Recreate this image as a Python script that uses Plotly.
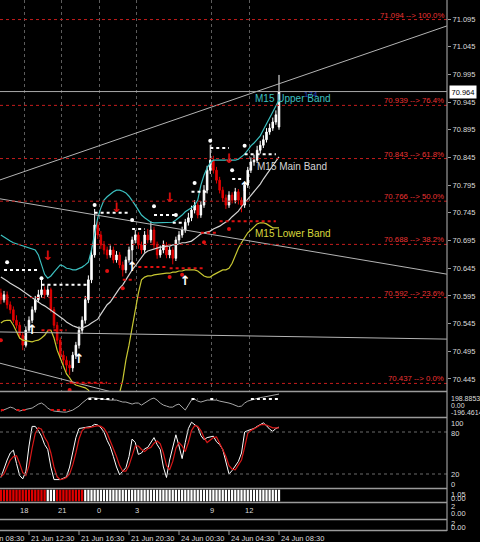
import plotly.graph_objects as go

# ---------------- 15-minute bars, USDRUB-style quotes ----------------
bars = list(range(90))

opens = [70.600, 70.588, 70.597, 70.579, 70.570, 70.551, 70.542, 70.524, 70.506, 70.533,
         70.551, 70.570, 70.588, 70.597, 70.606, 70.597, 70.606, 70.570, 70.542, 70.515,
         70.488, 70.479, 70.470, 70.465, 70.488, 70.506, 70.533, 70.551, 70.588, 70.624,
         70.669, 70.723, 70.705, 70.687, 70.678, 70.669, 70.678, 70.660, 70.669, 70.651,
         70.642, 70.660, 70.678, 70.696, 70.705, 70.687, 70.678, 70.705, 70.696, 70.714,
         70.687, 70.669, 70.678, 70.687, 70.669, 70.678, 70.663, 70.696, 70.705, 70.714,
         70.728, 70.736, 70.750, 70.759, 70.741, 70.759, 70.786, 70.822, 70.840, 70.822,
         70.804, 70.786, 70.772, 70.759, 70.777, 70.768, 70.783, 70.768, 70.759, 70.795,
         70.822, 70.837, 70.840, 70.858, 70.867, 70.877, 70.891, 70.898, 70.909, 70.900]

highs = [70.608, 70.604, 70.603, 70.585, 70.576, 70.560, 70.548, 70.530, 70.540, 70.558,
         70.576, 70.595, 70.606, 70.624, 70.612, 70.614, 70.610, 70.575, 70.548, 70.520,
         70.496, 70.486, 70.478, 70.494, 70.512, 70.540, 70.558, 70.595, 70.632, 70.678,
         70.752, 70.730, 70.712, 70.694, 70.684, 70.686, 70.684, 70.676, 70.674, 70.657,
         70.666, 70.684, 70.702, 70.714, 70.710, 70.693, 70.712, 70.716, 70.730, 70.720,
         70.693, 70.686, 70.695, 70.692, 70.684, 70.683, 70.702, 70.712, 70.720, 70.734,
         70.745, 70.758, 70.768, 70.764, 70.766, 70.795, 70.830, 70.868, 70.848, 70.828,
         70.810, 70.792, 70.778, 70.784, 70.782, 70.790, 70.788, 70.773, 70.802, 70.828,
         70.845, 70.850, 70.866, 70.875, 70.885, 70.898, 70.906, 70.917, 70.930, 70.994]

lows = [70.580, 70.583, 70.572, 70.563, 70.546, 70.536, 70.518, 70.497, 70.502, 70.528,
        70.546, 70.565, 70.583, 70.592, 70.590, 70.593, 70.565, 70.536, 70.508, 70.482,
        70.470, 70.458, 70.452, 70.458, 70.481, 70.500, 70.526, 70.545, 70.582, 70.618,
        70.664, 70.698, 70.680, 70.670, 70.662, 70.664, 70.654, 70.655, 70.645, 70.630,
        70.636, 70.655, 70.650, 70.690, 70.680, 70.671, 70.673, 70.690, 70.691, 70.680,
        70.662, 70.664, 70.672, 70.663, 70.663, 70.652, 70.658, 70.690, 70.700, 70.709,
        70.722, 70.730, 70.744, 70.735, 70.736, 70.754, 70.780, 70.815, 70.816, 70.798,
        70.780, 70.765, 70.752, 70.754, 70.762, 70.762, 70.760, 70.746, 70.754, 70.790,
        70.817, 70.830, 70.835, 70.852, 70.862, 70.872, 70.886, 70.893, 70.904, 70.895]

closes = [70.588, 70.597, 70.579, 70.570, 70.551, 70.542, 70.524, 70.506, 70.533, 70.551,
          70.570, 70.588, 70.597, 70.606, 70.597, 70.606, 70.570, 70.542, 70.515, 70.488,
          70.479, 70.470, 70.465, 70.488, 70.506, 70.533, 70.551, 70.588, 70.624, 70.669,
          70.723, 70.705, 70.687, 70.678, 70.669, 70.678, 70.660, 70.669, 70.651, 70.642,
          70.660, 70.678, 70.696, 70.705, 70.687, 70.678, 70.705, 70.696, 70.714, 70.687,
          70.669, 70.678, 70.687, 70.669, 70.678, 70.663, 70.696, 70.705, 70.714, 70.728,
          70.736, 70.750, 70.759, 70.741, 70.759, 70.786, 70.822, 70.840, 70.822, 70.804,
          70.786, 70.772, 70.759, 70.777, 70.768, 70.783, 70.768, 70.759, 70.795, 70.822,
          70.837, 70.840, 70.858, 70.867, 70.877, 70.891, 70.898, 70.909, 70.922, 70.964]

# M15 Bollinger bands
bb_upper = [70.705, 70.701, 70.698, 70.694, 70.691, 70.689, 70.687, 70.685, 70.683, 70.681,
            70.680, 70.678, 70.669, 70.651, 70.634, 70.627, 70.631, 70.638, 70.645, 70.651,
            70.649, 70.645, 70.644, 70.642, 70.642, 70.644, 70.647, 70.651, 70.656, 70.678,
            70.710, 70.736, 70.754, 70.768, 70.774, 70.779, 70.783, 70.786, 70.786, 70.784,
            70.781, 70.775, 70.768, 70.759, 70.750, 70.741, 70.736, 70.732, 70.728, 70.727,
            70.727, 70.727, 70.727, 70.727, 70.727, 70.728, 70.732, 70.736, 70.741, 70.747,
            70.750, 70.754, 70.759, 70.768, 70.795, 70.813, 70.826, 70.835, 70.840, 70.840,
            70.840, 70.840, 70.840, 70.840, 70.840, 70.840, 70.842, 70.846, 70.851, 70.858,
            70.866, 70.871, 70.877, 70.884, 70.895, 70.905, 70.916, 70.927, 70.938, 70.949]

bb_main = [70.629, 70.626, 70.622, 70.618, 70.615, 70.611, 70.608, 70.604, 70.600, 70.595,
           70.591, 70.588, 70.584, 70.580, 70.577, 70.573, 70.570, 70.566, 70.561, 70.557,
           70.553, 70.548, 70.544, 70.541, 70.539, 70.537, 70.537, 70.539, 70.542, 70.546,
           70.550, 70.553, 70.562, 70.571, 70.579, 70.584, 70.593, 70.602, 70.609, 70.615,
           70.624, 70.634, 70.642, 70.649, 70.656, 70.665, 70.672, 70.676, 70.678, 70.680,
           70.681, 70.683, 70.683, 70.685, 70.685, 70.687, 70.687, 70.689, 70.691, 70.691,
           70.692, 70.694, 70.698, 70.703, 70.707, 70.709, 70.710, 70.712, 70.716, 70.718,
           70.721, 70.725, 70.728, 70.732, 70.738, 70.743, 70.748, 70.756, 70.763, 70.768,
           70.775, 70.783, 70.790, 70.797, 70.806, 70.813, 70.822, 70.830, 70.839, 70.846]

bb_lower = [70.546, 70.550, 70.551, 70.551, 70.542, 70.530, 70.519, 70.515, 70.514, 70.512,
            70.512, 70.514, 70.515, 70.519, 70.524, 70.532, 70.533, 70.519, 70.497, 70.483,
            70.468, 70.454, 70.447, 70.438, 70.434, 70.432, 70.431, 70.429, 70.425, 70.416,
            70.403, 70.389, 70.375, 70.371, 70.375, 70.389, 70.403, 70.412, 70.420, 70.443,
            70.479, 70.506, 70.537, 70.570, 70.600, 70.624, 70.629, 70.631, 70.631, 70.633,
            70.634, 70.634, 70.636, 70.636, 70.636, 70.638, 70.638, 70.640, 70.640, 70.642,
            70.642, 70.642, 70.642, 70.640, 70.636, 70.631, 70.629, 70.629, 70.633, 70.636,
            70.640, 70.642, 70.642, 70.645, 70.654, 70.669, 70.681, 70.691, 70.700, 70.709,
            70.714, 70.719, 70.725, 70.727, 70.727, 70.725, 70.721, 70.718, 70.718, 70.718]

# CCI
cci = [-103, -87, -63, -40, -55, -87, -103, -87, -79, -71,
       -55, -24, 8, 24, -8, -55, -87, -103, -111, -119,
       -119, -119, -103, -87, -55, -24, 24, 71, 103, 111,
       103, 95, 87, 79, 71, 71, 71, 71, 55, 40,
       40, 24, 8, 24, 24, -8, 24, 55, 87, 103,
       71, 24, -8, -24, -40, -40, -8, 8, -40, -87,
       -8, 71, 87, 55, 40, 55, 71, 71, 71, 71,
       55, 47, 32, 24, 8, -8, -32, -24, 24, 55,
       71, 87, 103, 111, 118, 126, 134, 150, 158, 166]
cci_max, cci_min = 198.8853, -196.4614

# Stochastic oscillator
stoch_main = [15, 28, 40, 50, 54, 35, 18, 13, 24, 60,
              88, 88, 82, 74, 62, 55, 30, 12, 12, 12,
              14, 16, 30, 50, 72, 85, 86, 86, 87, 88,
              91, 90, 86, 80, 68, 59, 45, 30, 19, 24,
              29, 45, 70, 65, 48, 50, 56, 58, 65, 72,
              62, 55, 30, 15, 40, 60, 76, 60, 42, 65,
              85, 94, 90, 87, 75, 69, 72, 73, 74, 66,
              62, 55, 38, 20, 25, 32, 38, 50, 80, 82,
              83, 85, 88, 91, 93, 89, 84, 81, 85, 87]
stoch_signal = [16, 20, 30, 40, 45, 46, 35, 22, 18, 32,
                57, 78, 86, 84, 72, 65, 50, 30, 16, 12,
                13, 15, 20, 33, 50, 70, 82, 86, 86, 87,
                88, 89, 88, 85, 78, 68, 56, 45, 32, 24,
                24, 32, 48, 60, 60, 55, 52, 56, 58, 64,
                67, 63, 50, 32, 26, 38, 57, 65, 60, 52,
                65, 82, 89, 88, 82, 72, 65, 68, 72, 73,
                65, 55, 45, 32, 27, 26, 33, 40, 58, 78,
                82, 84, 87, 90, 91, 90, 88, 86, 86, 86]
stoch_levels = [80, 20]

# trend strip: 1 = bearish (red), 0 = bullish (white)
trend_state = [1, 1, 1, 1, 1, 1, 1, 1, 1, 1,
               1, 1, 1, 1, 1, 0, 0, 0, 1, 1,
               1, 1, 1, 1, 1, 1, 1, 0, 0, 0,
               0, 0, 0, 0, 0, 0, 0, 0, 0, 0,
               0, 0, 0, 0, 0, 0, 0, 0, 0, 0,
               0, 0, 0, 0, 0, 0, 0, 0, 0, 0,
               0, 0, 0, 0, 0, 0, 0, 0, 0, 0,
               0, 0, 0, 0, 0, 0, 0, 0, 0, 0,
               0, 0, 0, 0, 0, 0, 0, 0, 0, 0]

# Fibonacci retracement
fib_levels = [71.094, 70.939, 70.843, 70.766, 70.688, 70.592, 70.437]
fib_pcts = ["100.0%", "76.4%", "61.8%", "50.0%", "38.2%", "23.6%", "0.0%"]

price_ticks = [71.095, 71.045, 70.995, 70.945, 70.895, 70.845, 70.795,
               70.745, 70.695, 70.645, 70.595, 70.545, 70.495, 70.445]
bid_price = 70.964

# hand-drawn trend lines: (bar0, price0, bar1, price1)
trend_lines = [(-1, 70.803, 143, 71.083),
               (-1, 70.771, 143, 70.634),
               (-1, 70.530, 143, 70.517),
               (-1, 70.4745, 40, 70.415)]

# fractal levels: (first bar, last bar, price)
white_levels = [(1, 12, 70.642), (13, 28, 70.615), (30, 41, 70.745), (42, 46, 70.716),
                (49, 56, 70.741), (55, 59, 70.727), (61, 66, 70.783), (67, 73, 70.862),
                (74, 77, 70.806), (78, 88, 70.851)]
red_levels = [(13, 21, 70.533), (22, 34, 70.438), (39, 43, 70.624), (44, 53, 70.647),
              (54, 65, 70.645), (64, 69, 70.709), (70, 88, 70.730)]

white_dot_bars = [2, 13, 30, 42, 49, 56, 62, 67, 74, 78]
white_dot_prices = [70.656, 70.627, 70.759, 70.732, 70.757, 70.741, 70.799, 70.875, 70.822, 70.866]
red_dot_bars = [0, 22, 34, 39, 54, 58, 65, 73]
red_dot_prices = [70.515, 70.425, 70.640, 70.609, 70.629, 70.633, 70.692, 70.716]

up_arrow_bars = [10, 25, 42, 59, 78]
up_arrow_prices = [70.533, 70.479, 70.645, 70.620, 70.790]
down_arrow_bars = [15, 37, 54, 73]
down_arrow_prices = [70.665, 70.752, 70.770, 70.840]

# CCI extremes markers: (first bar, last bar)
cci_high_runs = [(28, 36), (61, 63), (67, 69), (80, 89)]
cci_low_runs = [(0, 1), (5, 8), (16, 22)]
cci_marker_level = 87

time_labels = ["21 Jun 08:30", "21 Jun 12:30", "21 Jun 16:30", "21 Jun 20:30",
               "24 Jun 00:30", "24 Jun 04:30", "24 Jun 08:30"]
time_label_bars = [-7, 9, 25, 41, 57, 73, 89]
hour_labels = ["18", "21", "0", "3", "9", "12"]
hour_label_bars = [7.5, 19.5, 31.5, 43.5, 67.5, 79.5]

# ---------------- geometry / style ----------------
FONT = "Liberation Sans, Arial, sans-serif"
PLOT_H = 531.0          # plot-area height in px; the time scale sits below
XMIN, XMAX = -0.28, 142.76
YMIN, YMAX = 70.4233, 71.1293


def py(row):
    """pixel row inside the plot area -> paper y"""
    return (PLOT_H - row) / PLOT_H


def bx(bar):
    return (bar - XMIN) / (XMAX - XMIN)


CYAN = "#3cc0c0"
MAINB = "#d4d4d4"
YELLOW = "#c8c832"
RED = "#e00000"
FIBRED = "#c41c1c"

fig = go.Figure()

# ---- main price panel ----
fig.add_trace(go.Candlestick(
    x=bars, open=opens, high=highs, low=lows, close=closes,
    increasing=dict(line=dict(color="#ffffff", width=1), fillcolor="#ffffff"),
    decreasing=dict(line=dict(color=RED, width=1), fillcolor=RED),
    whiskerwidth=0, xaxis="x", yaxis="y"))

for vals, col in [(bb_upper, CYAN), (bb_main, MAINB), (bb_lower, YELLOW)]:
    fig.add_trace(go.Scatter(x=bars, y=vals, mode="lines",
                             line=dict(color=col, width=1.2), xaxis="x", yaxis="y"))

for b0, p0, b1, p1 in trend_lines:
    fig.add_trace(go.Scatter(x=[b0, b1], y=[p0, p1], mode="lines",
                             line=dict(color="#b4b4b4", width=1), xaxis="x", yaxis="y"))

for b0, b1, p in white_levels:
    fig.add_trace(go.Scatter(x=[b0, b1], y=[p, p], mode="lines",
                             line=dict(color="#ffffff", width=2, dash="dot"),
                             xaxis="x", yaxis="y"))
for b0, b1, p in red_levels:
    fig.add_trace(go.Scatter(x=[b0, b1], y=[p, p], mode="lines",
                             line=dict(color="#e01010", width=2, dash="dot"),
                             xaxis="x", yaxis="y"))

fig.add_trace(go.Scatter(x=white_dot_bars, y=white_dot_prices, mode="markers",
                         marker=dict(color="#ffffff", size=4), xaxis="x", yaxis="y"))
fig.add_trace(go.Scatter(x=red_dot_bars, y=red_dot_prices, mode="markers",
                         marker=dict(color="#e01010", size=4), xaxis="x", yaxis="y"))
fig.add_trace(go.Scatter(x=up_arrow_bars, y=up_arrow_prices, mode="text",
                         text=["<b>↑</b>"] * len(up_arrow_bars),
                         textfont=dict(family="DejaVu Sans", size=13, color="#ffffff"),
                         xaxis="x", yaxis="y"))
fig.add_trace(go.Scatter(x=down_arrow_bars, y=down_arrow_prices, mode="text",
                         text=["<b>↓</b>"] * len(down_arrow_bars),
                         textfont=dict(family="DejaVu Sans", size=13, color="#e01010"),
                         xaxis="x", yaxis="y"))

# ---- CCI panel ----
fig.add_trace(go.Scatter(x=bars, y=cci, mode="lines", line=dict(color="#a8a8a8", width=1),
                         xaxis="x2", yaxis="y2"))
for b0, b1 in cci_high_runs:
    fig.add_trace(go.Scatter(x=[b0, b1], y=[cci_marker_level] * 2, mode="lines",
                             line=dict(color="#ffffff", width=2, dash="dot"),
                             xaxis="x2", yaxis="y2"))
for b0, b1 in cci_low_runs:
    fig.add_trace(go.Scatter(x=[b0, b1], y=[-cci_marker_level] * 2, mode="lines",
                             line=dict(color="#e01010", width=2, dash="dot"),
                             xaxis="x2", yaxis="y2"))

# ---- stochastic panel ----
fig.add_trace(go.Scatter(x=bars, y=stoch_main, mode="lines", line=dict(color="#ffffff", width=1),
                         xaxis="x3", yaxis="y3"))
fig.add_trace(go.Scatter(x=bars, y=stoch_signal, mode="lines", line=dict(color="#d81818", width=1.2),
                         xaxis="x3", yaxis="y3"))

# ---- trend strip ----
fig.add_trace(go.Bar(x=bars, y=[1 for _ in trend_state], width=0.72,
                     marker=dict(color=[RED if s else "#ffffff" for s in trend_state], line=dict(width=0)),
                     xaxis="x4", yaxis="y4"))

# ---------------- shapes ----------------
shapes = []
for lvl in fib_levels:
    shapes.append(dict(type="line", xref="paper", yref="y", x0=0, x1=1, y0=lvl, y1=lvl,
                       line=dict(color=FIBRED, width=1, dash="dot")))
shapes.append(dict(type="line", xref="paper", yref="y", x0=0, x1=1, y0=bid_price, y1=bid_price,
                   line=dict(color="#a8a8a8", width=1)))
for lv in stoch_levels:
    shapes.append(dict(type="line", xref="paper", yref="y3", x0=0, x1=1, y0=lv, y1=lv,
                       line=dict(color="#6a6a6a", width=1, dash="dot")))
# panel separators and right-hand border
for row in [391.5, 417.5, 488.5, 502.5, 519.5, 530.5]:
    shapes.append(dict(type="line", xref="paper", yref="paper", x0=0, x1=1, y0=py(row), y1=py(row),
                       line=dict(color="#9a9a9a", width=1.6)))
shapes.append(dict(type="line", xref="paper", yref="paper", x0=1, x1=1, y0=0, y1=1,
                   line=dict(color="#9a9a9a", width=1.2)))
# time-scale ticks
for b in time_label_bars[1:]:
    shapes.append(dict(type="line", xref="paper", yref="paper", x0=bx(b), x1=bx(b),
                       y0=0, y1=-4 / PLOT_H, line=dict(color="#9a9a9a", width=1)))

# ---------------- annotations ----------------
ann = []
for lvl, pct in zip(fib_levels, fib_pcts):
    ann.append(dict(xref="paper", yref="y", x=1, y=lvl, xanchor="right", yanchor="bottom",
                    xshift=-1, yshift=-2, text=f"{lvl:.3f} --> {pct}", showarrow=False,
                    font=dict(family=FONT, size=7.8, color="#ec3434")))

ann.append(dict(xref="paper", yref="y", x=1, y=bid_price, xanchor="left", yanchor="middle",
                xshift=2, text=f"{bid_price:.3f}", showarrow=False, bgcolor="#ffffff",
                borderpad=1.5, font=dict(family=FONT, size=7.5, color="#000000")))

ann.append(dict(xref="x", yref="y", x=96.5, y=70.959, xanchor="left", yanchor="middle",
                text="174", showarrow=False, font=dict(family=FONT, size=8, color="#2a46c8")))
ann.append(dict(xref="x", yref="y", x=80.7, y=70.951, xanchor="left", yanchor="middle",
                text="M15 Upper Band", showarrow=False, font=dict(family=FONT, size=10, color=CYAN)))
ann.append(dict(xref="x", yref="y", x=81.3, y=70.829, xanchor="left", yanchor="middle",
                text="M15 Main Band", showarrow=False, font=dict(family=FONT, size=10, color=MAINB)))
ann.append(dict(xref="x", yref="y", x=80.7, y=70.707, xanchor="left", yanchor="middle",
                text="M15 Lower Band", showarrow=False, font=dict(family=FONT, size=10, color="#d8d83c")))

# sub-window scale labels
side_labels = [("198.8853", 398, 7), ("0.00", 405.5, 7), ("-196.4614", 412.5, 7),
               ("100", 423, 7.5), ("80", 433, 7.5), ("20", 474, 7.5), ("0", 484, 7.5),
               ("1.05", 494.5, 7.5), ("0.00", 498.5, 7.5),
               ("2", 506.5, 7.5), ("0.00", 513.5, 7.5),
               ("2", 523.5, 7.5), ("0.00", 527.5, 7.5)]
for txt, row, fs in side_labels:
    ann.append(dict(xref="paper", yref="paper", x=1, y=py(row), xanchor="left", yanchor="middle",
                    xshift=2, text=txt, showarrow=False,
                    font=dict(family=FONT, size=fs, color="#dcdcdc")))

for lab, b in zip(hour_labels, hour_label_bars):
    ann.append(dict(xref="x", yref="paper", x=b, y=py(510.5), xanchor="center", yanchor="middle",
                    text=lab, showarrow=False, font=dict(family=FONT, size=7.5, color="#dcdcdc")))

for lab, b in zip(time_labels, time_label_bars):
    ann.append(dict(xref="paper", yref="paper", x=bx(b), y=0, xanchor="left", yanchor="top",
                    xshift=0, yshift=-1, text=lab, showarrow=False,
                    font=dict(family=FONT, size=7.5, color="#dcdcdc")))

hidden = dict(showticklabels=False, showgrid=False, zeroline=False, showline=False, ticks="")

fig.update_layout(
    width=480, height=542,
    margin=dict(l=0, r=33, t=0, b=11),
    paper_bgcolor="#000000", plot_bgcolor="#000000",
    showlegend=False, hovermode=False,
    font=dict(family=FONT, size=7.5, color="#dcdcdc"),
    xaxis=dict(domain=[0, 1], range=[XMIN, XMAX], anchor="y", tickvals=hour_label_bars,
               showgrid=True, gridcolor="#5c5c5c", griddash="dot", gridwidth=1,
               showticklabels=False, zeroline=False, ticks="", rangeslider=dict(visible=False)),
    xaxis2=dict(matches="x", anchor="y2", **hidden),
    xaxis3=dict(matches="x", anchor="y3", **hidden),
    xaxis4=dict(matches="x", anchor="y4", **hidden),
    yaxis=dict(domain=[py(391), 1], range=[YMIN, YMAX], side="right", anchor="x",
               tickvals=price_ticks, ticktext=[f"{v:.3f}" for v in price_ticks],
               tickfont=dict(family=FONT, size=7.5, color="#dcdcdc"),
               ticks="outside", ticklen=3, tickcolor="#9a9a9a",
               showgrid=False, zeroline=False, showline=False),
    yaxis2=dict(domain=[py(417), py(392)], range=[cci_min, cci_max], anchor="x2", **hidden),
    yaxis3=dict(domain=[py(488), py(418)], range=[0, 100], anchor="x3", **hidden),
    yaxis4=dict(domain=[py(501.5), py(489.5)], range=[0, 1], anchor="x4", **hidden),
    shapes=shapes,
    annotations=ann,
)

fig.write_html("out.html")
